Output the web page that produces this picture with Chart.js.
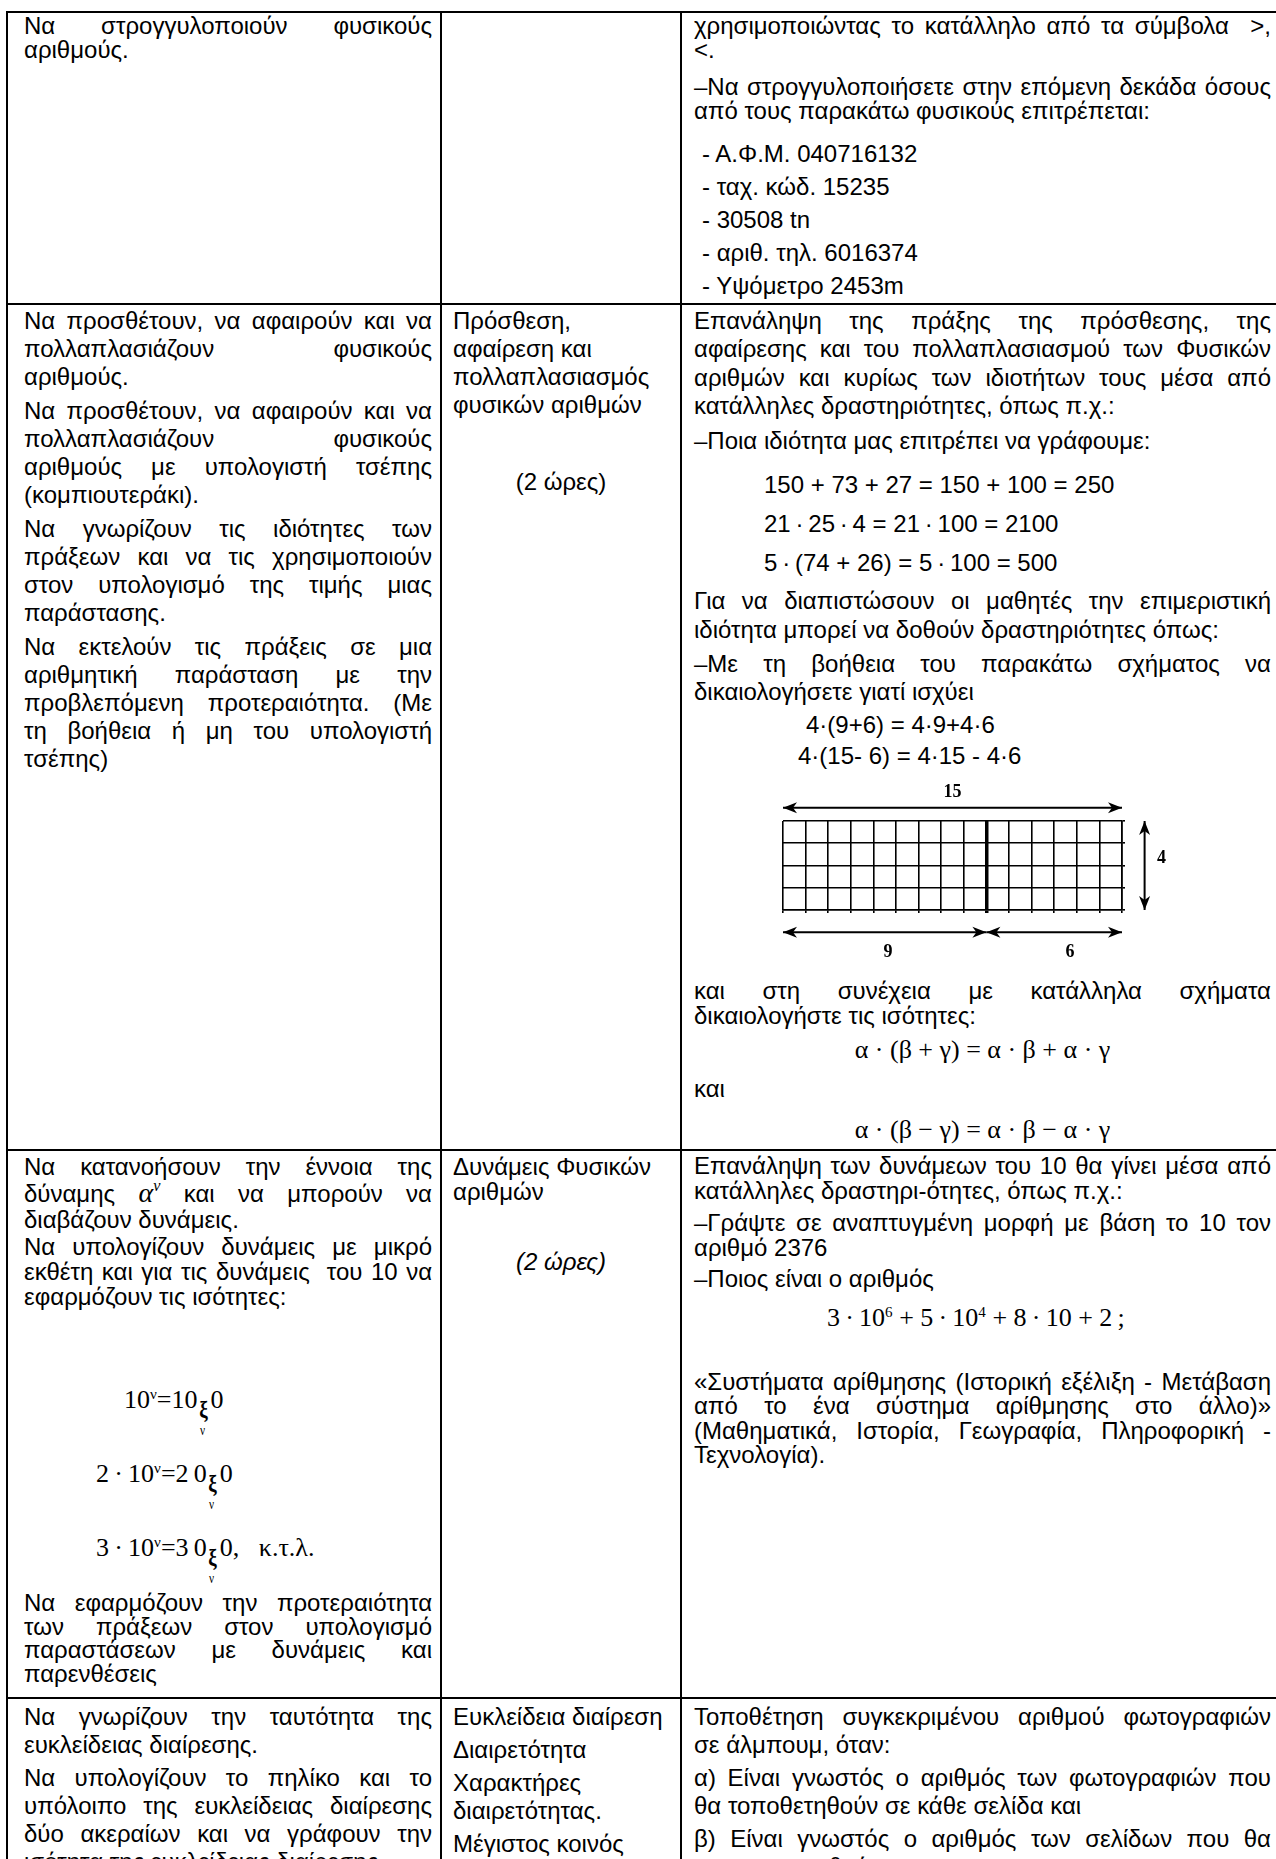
<!DOCTYPE html>
<html lang="el">
<head>
  <meta charset="UTF-8" />
  <title>Φυσικοί αριθμοί – πίνακας</title>
  <script src="https://cdn.jsdelivr.net/npm/chart.js"></script>
  <style>
    html, body { margin: 0; padding: 0; background: #fff; }
    #page { position: relative; width: 1276px; height: 1859px; overflow: hidden; color: #000;
            font-family: "Liberation Sans", Arial, sans-serif; font-size: 24px; }
    .hl, .vl { position: absolute; background: #000; }
    .p { position: absolute; }
    .j { text-align: justify; text-align-last: justify; }
    .c { text-align: center; }
    .it { font-style: italic; }
    .serif { font-family: "Liberation Serif", "Times New Roman", serif; font-size: 26px; }
    sup { font-size: 0.58em; vertical-align: baseline; position: relative; top: -0.62em; }
    .ub { display: inline-block; position: relative; width: 13px; font-size: 24px; font-weight: bold;
          transform: translateY(9px) scaleX(0.8); }
    .ub b { position: absolute; left: 1px; top: 22px; font-size: 14px; font-weight: normal; }
    .al { font-family: "Liberation Serif", serif; font-style: italic; font-size: 28px; line-height: 20px; }
    #fig { position: absolute; left: 755px; top: 775px; width: 430px; height: 195px; }
  </style>
</head>
<body>
<div id="page">
  <div id="fig"><canvas id="gridChart" width="430" height="195"></canvas></div>
</div>

<script>
  // figure data: 4 x 15 squares, width split as 9 + 6
  const cols = 15;
  const rows = 4;
  const parts = [9, 6];
  const dimLabels = ['15', '9', '6', '4'];

  // table frame
  const colLines = [7, 441, 681];
  const rowLines = [12, 304, 1150, 1698];
  const COL = {
    a: { left: 24, width: 408 },
    b: { left: 453, width: 222 },
    bc: { left: 441, width: 240 },
    c: { left: 694, width: 577 }
  };

  // text, paragraph by paragraph: y = centre of first line, "~" = justified line
  const textRow1 = [
    ['a', { y: 26, lh: 23.5, lines: ['~Να στρογγυλοποιούν φυσικούς', 'αριθμούς.'] }],
    ['c', { y: 26, lh: 23.5, lines: ['~χρησιμοποιώντας το κατάλληλο από τα σύμβολα &nbsp;&gt;,', '&lt;.'] }],
    ['c', { y: 87, lh: 23.5, lines: ['~–Να στρογγυλοποιήσετε στην επόμενη δεκάδα όσους', 'από τους παρακάτω φυσικούς επιτρέπεται:'] }],
    ['c', { y: 153, lh: 33, indent: 8, lines: ['- Α.Φ.Μ. 040716132', '- ταχ. κώδ. 15235', '- 30508 tn', '- αριθ. τηλ. 6016374', '- Υψόμετρο 2453m'] }]
  ];

  const textRow2 = [
    ['a', { y: 321, lh: 28, lines: ['~Να προσθέτουν, να αφαιρούν και να', '~πολλαπλασιάζουν φυσικούς', 'αριθμούς.'] }],
    ['a', { y: 411, lh: 28, lines: ['~Να προσθέτουν, να αφαιρούν και να', '~πολλαπλασιάζουν φυσικούς', '~αριθμούς με υπολογιστή τσέπης', '(κομπιουτεράκι).'] }],
    ['a', { y: 529, lh: 28, lines: ['~Να γνωρίζουν τις ιδιότητες των', '~πράξεων και να τις χρησιμοποιούν', '~στον υπολογισμό της τιμής μιας', 'παράστασης.'] }],
    ['a', { y: 647, lh: 28, lines: ['~Να εκτελούν τις πράξεις σε μια', '~αριθμητική παράσταση με την', '~προβλεπόμενη προτεραιότητα. (Με', '~τη βοήθεια ή μη του υπολογιστή', 'τσέπης)'] }],
    ['b', { y: 321, lh: 28, lines: ['Πρόσθεση,', 'αφαίρεση και', 'πολλαπλασιασμός', 'φυσικών αριθμών'] }],
    ['bc', { y: 482, lh: 28, cls: 'c', lines: ['(2 ώρες)'] }],
    ['c', { y: 321, lh: 28.5, lines: ['~Επανάληψη της πράξης της πρόσθεσης, της', '~αφαίρεσης και του πολλαπλασιασμού των Φυσικών', '~αριθμών και κυρίως των ιδιοτήτων τους μέσα από', 'κατάλληλες δραστηριότητες, όπως π.χ.:'] }],
    ['c', { y: 441, lh: 28, lines: ['–Ποια ιδιότητα μας επιτρέπει να γράφουμε:'] }],
    ['c', { y: 484, lh: 39, indent: 70, lines: ['150 + 73 + 27 = 150 + 100 = 250', '21\u2009·\u200925\u2009·\u20094 = 21\u2009·\u2009100 = 2100', '5\u2009·\u2009(74 + 26) = 5\u2009·\u2009100 = 500'] }],
    ['c', { y: 600, lh: 29, lines: ['~Για να διαπιστώσουν οι μαθητές την επιμεριστική', 'ιδιότητα μπορεί να δοθούν δραστηριότητες όπως:'] }],
    ['c', { y: 664, lh: 28, lines: ['~–Με τη βοήθεια του παρακάτω σχήματος να', 'δικαιολογήσετε γιατί ισχύει'] }],
    ['c', { y: 724, lh: 31, indent: 112, lines: ['4·(9+6) = 4·9+4·6'] }],
    ['c', { y: 755, lh: 31, indent: 104, lines: ['4·(15- 6) = 4·15 - 4·6'] }],
    ['c', { y: 990, lh: 25, lines: ['~και στη συνέχεια με κατάλληλα σχήματα', 'δικαιολογήστε τις ισότητες:'] }],
    ['c', { y: 1050, lh: 34, cls: 'c serif', lines: ['α · (β + γ) = α · β + α · γ'] }],
    ['c', { y: 1089, lh: 28, lines: ['και'] }],
    ['c', { y: 1130, lh: 34, cls: 'c serif', lines: ['α · (β − γ) = α · β − α · γ'] }]
  ];

  const textRow3 = [
    ['a', { y: 1166, lh: 25, lines: ['~Να κατανοήσουν την έννοια της'] }],
    ['a', { y: 1193, lh: 29, lines: ['~δύναμης <span class="al">α<sup>ν</sup></span> και να μπορούν να'] }],
    ['a', { y: 1219, lh: 25, lines: ['διαβάζουν δυνάμεις.'] }],
    ['a', { y: 1246, lh: 25, lines: ['~Να υπολογίζουν δυνάμεις με μικρό', '~εκθέτη και για τις δυνάμεις &nbsp;του 10 να', 'εφαρμόζουν τις ισότητες:'] }],
    ['a', { y: 1400, lh: 40, indent: 100, cls: 'serif', lines: ['10<sup>ν</sup>=10<span class="ub">ξ<b>ν</b></span>0'] }],
    ['a', { y: 1474, lh: 40, indent: 72, cls: 'serif', lines: ['2\u2009·\u200910<sup>ν</sup>=2\u20090<span class="ub">ξ<b>ν</b></span>0'] }],
    ['a', { y: 1548, lh: 40, indent: 72, cls: 'serif', lines: ['3\u2009·\u200910<sup>ν</sup>=3\u20090<span class="ub">ξ<b>ν</b></span>0, &nbsp;&nbsp;κ.τ.λ.'] }],
    ['a', { y: 1603, lh: 23.5, lines: ['~Να εφαρμόζουν την προτεραιότητα', '~των πράξεων στον υπολογισμό', '~παραστάσεων με δυνάμεις και', 'παρενθέσεις'] }],
    ['b', { y: 1166, lh: 25, lines: ['Δυνάμεις Φυσικών', 'αριθμών'] }],
    ['bc', { y: 1262, lh: 28, cls: 'c it', lines: ['(2 ώρες)'] }],
    ['c', { y: 1165, lh: 25, lines: ['~Επανάληψη των δυνάμεων του 10 θα γίνει μέσα από', 'κατάλληλες δραστηρι-ότητες, όπως π.χ.:'] }],
    ['c', { y: 1222, lh: 25, lines: ['~–Γράψτε σε αναπτυγμένη μορφή με βάση το 10 τον', 'αριθμό 2376'] }],
    ['c', { y: 1278, lh: 25, lines: ['–Ποιος είναι ο αριθμός'] }],
    ['c', { y: 1318, lh: 40, indent: 133, cls: 'serif', lines: ['3\u2009·\u200910<sup>6</sup> + 5\u2009·\u200910<sup>4</sup> + 8\u2009·\u200910 + 2\u2009;'] }],
    ['c', { y: 1382, lh: 24.5, lines: ['~«Συστήματα αρίθμησης (Ιστορική εξέλιξη - Μετάβαση', '~από το ένα σύστημα αρίθμησης στο άλλο)»', '~(Μαθηματικά, Ιστορία, Γεωγραφία, Πληροφορική -', 'Τεχνολογία).'] }]
  ];

  const textRow4 = [
    ['a', { y: 1717, lh: 28, lines: ['~Να γνωρίζουν την ταυτότητα της', 'ευκλείδειας διαίρεσης.'] }],
    ['a', { y: 1778, lh: 28, lines: ['~Να υπολογίζουν το πηλίκο και το', '~υπόλοιπο της ευκλείδειας διαίρεσης', '~δύο ακεραίων και να γράφουν την', 'ισότητα της ευκλείδειας διαίρεσης.'] }],
    ['b', { y: 1717, lh: 28, lines: ['Ευκλείδεια διαίρεση'] }],
    ['b', { y: 1750, lh: 28, lines: ['Διαιρετότητα'] }],
    ['b', { y: 1783, lh: 28, lines: ['Χαρακτήρες', 'διαιρετότητας.'] }],
    ['b', { y: 1844, lh: 28, lines: ['Μέγιστος κοινός', 'διαιρέτης'] }],
    ['c', { y: 1717, lh: 28, lines: ['~Τοποθέτηση συγκεκριμένου αριθμού φωτογραφιών', 'σε άλμπουμ, όταν:'] }],
    ['c', { y: 1778, lh: 28, lines: ['~α) Είναι γνωστός ο αριθμός των φωτογραφιών που', 'θα τοποθετηθούν σε κάθε σελίδα και'] }],
    ['c', { y: 1839, lh: 28, lines: ['~β) Είναι γνωστός ο αριθμός των σελίδων που θα', 'χρησιμοποιηθούν.'] }]
  ];

  const page = document.getElementById('page');

  colLines.forEach(x => {
    const d = document.createElement('div');
    d.className = 'vl';
    d.style.cssText = `left:${x - 1}px;top:${rowLines[0] - 1}px;width:2px;height:1900px`;
    page.appendChild(d);
  });
  rowLines.forEach(y => {
    const d = document.createElement('div');
    d.className = 'hl';
    d.style.cssText = `left:${colLines[0] - 1}px;top:${y - 1}px;width:1300px;height:2px`;
    page.appendChild(d);
  });

  function put(col, p) {
    const c = COL[col];
    const ind = p.indent || 0;
    const d = document.createElement('div');
    d.className = 'p' + (p.cls ? ' ' + p.cls : '');
    d.style.left = (c.left + ind) + 'px';
    d.style.width = (c.width - ind) + 'px';
    d.style.top = (p.y - p.lh / 2) + 'px';
    d.style.lineHeight = p.lh + 'px';
    d.innerHTML = p.lines.map(t => t[0] === '~'
      ? `<div class="j" style="height:${p.lh}px">${t.slice(1)}</div>`
      : `<div style="height:${p.lh}px">${t}</div>`).join('');
    page.appendChild(d);
  }
  [textRow1, textRow2, textRow3, textRow4].forEach(r => r.forEach(([col, p]) => put(col, p)));

  // arrow heads at both ends of every dimension line
  function head(ctx, x, y, ang) {
    ctx.save();
    ctx.translate(x, y);
    ctx.rotate(ang);
    ctx.beginPath();
    ctx.moveTo(0, 0);
    ctx.lineTo(-14, -5.5);
    ctx.lineTo(-10, 0);
    ctx.lineTo(-14, 5.5);
    ctx.closePath();
    ctx.fillStyle = '#000';
    ctx.fill();
    ctx.restore();
  }
  const arrowHeads = {
    id: 'arrowHeads',
    afterDatasetsDraw(chart) {
      const ctx = chart.ctx;
      chart.data.datasets.forEach((ds, i) => {
        const pts = chart.getDatasetMeta(i).data;
        const a = pts[0], b = pts[pts.length - 1];
        head(ctx, b.x, b.y, Math.atan2(b.y - a.y, b.x - a.x));
        head(ctx, a.x, a.y, Math.atan2(a.y - b.y, a.x - b.x));
      });
    }
  };
  const dimText = {
    id: 'dimText',
    afterDraw(chart) {
      const { ctx, scales: { x, y } } = chart;
      const spots = [
        [cols / 2, rows + 1.3],
        [parts[0] / 2 + 0.15, -1.9],
        [parts[0] + parts[1] / 2 + 0.7, -1.9],
        [cols + 1.75, rows / 2 + 0.3]
      ];
      ctx.save();
      ctx.fillStyle = '#000';
      ctx.font = 'bold 18px "Liberation Serif", "Times New Roman", serif';
      ctx.textAlign = 'center';
      ctx.textBaseline = 'middle';
      dimLabels.forEach((t, i) => ctx.fillText(t, x.getPixelForValue(spots[i][0]), y.getPixelForValue(spots[i][1])));
      ctx.restore();
    }
  };

  const arrow = { showLine: true, borderColor: '#000', borderWidth: 2, pointRadius: 0, clip: false, fill: false };
  const thick = c => (c.tick && c.tick.value === parts[0]) ? 3.5 : 1.6;

  new Chart(document.getElementById('gridChart'), {
    type: 'scatter',
    data: {
      datasets: [
        { ...arrow, data: [{ x: 0, y: rows + 0.6 }, { x: cols, y: rows + 0.6 }] },
        { ...arrow, data: [{ x: 0, y: -1 }, { x: parts[0], y: -1 }] },
        { ...arrow, data: [{ x: parts[0], y: -1 }, { x: cols, y: -1 }] },
        { ...arrow, data: [{ x: cols + 1, y: 0 }, { x: cols + 1, y: rows }] }
      ]
    },
    options: {
      responsive: false,
      animation: false,
      devicePixelRatio: 1,
      layout: { padding: { left: 28, top: 46, right: 60, bottom: 57 } },
      plugins: { legend: { display: false }, tooltip: { enabled: false } },
      scales: {
        x: {
          type: 'linear', min: 0, max: cols,
          ticks: { display: false, stepSize: 1, autoSkip: false },
          grid: { color: '#000', lineWidth: thick, drawTicks: true, tickLength: 3, tickColor: '#000', tickWidth: thick },
          border: { display: true, color: '#000', width: 1.6 }
        },
        y: {
          type: 'linear', position: 'right', min: 0, max: rows,
          ticks: { display: false, stepSize: 1 },
          grid: { color: '#000', lineWidth: 1.6, drawTicks: true, tickLength: 3, tickColor: '#000', tickWidth: 1.6 },
          border: { display: true, color: '#000', width: 1.6 }
        }
      }
    },
    plugins: [arrowHeads, dimText]
  });
</script>
</body>
</html>
